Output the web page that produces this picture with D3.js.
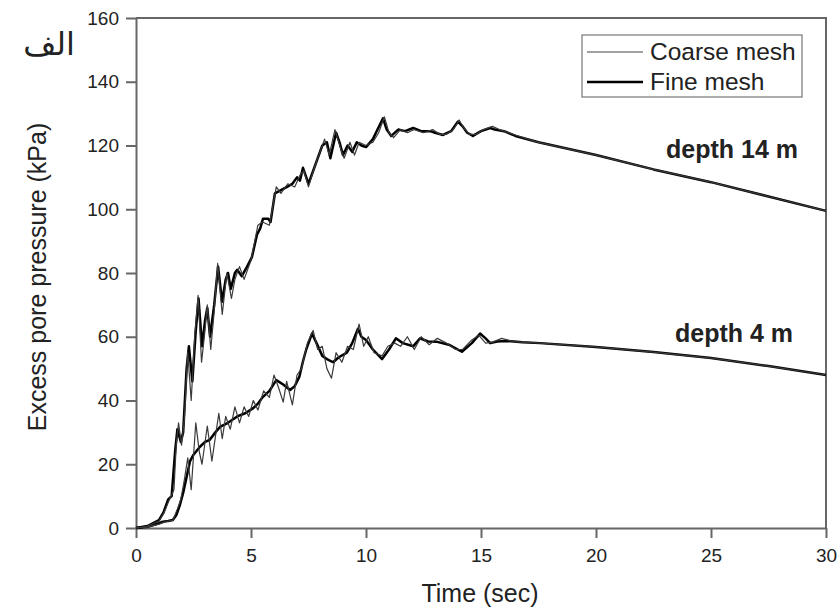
<!DOCTYPE html>
<meta charset="utf-8">
<html>
  <head>
    <style>
      body { margin: 0; background: #fff; }
      text { font-family: "Liberation Sans", Arial, sans-serif; fill: #222; }
      .axis path, .axis line { stroke: #666; stroke-width: 2px; }
      .axis text { font-size: 19px; fill: #222; font-family: "Liberation Sans", Arial, sans-serif; }
    </style>
    <script src="https://d3js.org/d3.v7.min.js"></script>
  </head>
  <body>
<div id="chart"></div>
<script type="text/javascript">
// data: [time (sec), excess pore pressure (kPa)]
var fine14 = [[0,0],[0.5,0.6],[1.0,2.5],[1.2,5],[1.4,9],[1.55,10],[1.7,24],[1.8,31],[1.95,27],[2.05,30],[2.2,50],[2.3,57],[2.45,46],[2.6,62],[2.72,72],[2.87,57],[3.0,65],[3.1,69],[3.22,60],[3.4,70],[3.57,82],[3.74,71],[3.9,78],[4.0,80],[4.12,75],[4.3,80],[4.4,81],[4.6,79],[4.83,82],[5.04,85],[5.26,92],[5.4,94],[5.52,97],[5.75,97],[5.85,96],[6.04,105],[6.3,106],[6.57,107],[6.8,108],[7.0,110],[7.13,109],[7.26,113],[7.5,108],[7.7,112],[7.9,116],[8.1,120],[8.3,121],[8.45,116],[8.7,124],[8.85,121],[9.0,117],[9.2,120],[9.4,118],[9.6,121],[9.8,120],[10.0,119.5],[10.3,122],[10.5,125],[10.74,128.5],[10.9,125],[11.1,123],[11.4,125],[11.7,124.5],[12.05,125.5],[12.4,124.5],[12.8,124.5],[13.0,124],[13.35,123.3],[13.7,124.5],[14.0,127.5],[14.2,126],[14.4,124],[14.65,123],[15.0,124.5],[15.4,125.5],[15.6,125],[16.0,124.5],[16.5,123],[17.5,121],[20,117],[22.5,112.5],[25,108.5],[27.5,104],[30,99.5]];
var coarse14 = [[0,0],[0.5,0.5],[1.0,2.2],[1.2,4.5],[1.4,8],[1.65,12],[1.75,26],[1.85,33],[1.98,26],[2.1,34],[2.25,55],[2.4,40],[2.55,60],[2.7,73],[2.85,52],[3.0,62],[3.1,70],[3.25,56],[3.4,68],[3.55,83],[3.75,67],[3.95,80],[4.15,72],[4.3,78],[4.5,82],[4.7,78],[5.0,84],[5.3,95],[5.5,96],[5.8,95],[6.1,107],[6.3,105],[6.6,108],[6.9,107],[7.15,111],[7.3,112],[7.5,107],[7.75,113],[8.0,118],[8.2,122],[8.4,117],[8.65,125],[8.9,119],[9.05,116],[9.3,121],[9.5,117],[9.7,121],[10.0,120],[10.3,121],[10.55,124],[10.8,129],[11.0,124],[11.2,122.5],[11.5,125],[11.8,124],[12.1,125],[12.5,124],[12.9,125],[13.2,123.5],[13.5,123.5],[13.8,125],[14.05,128],[14.25,125.5],[14.5,123.5],[14.8,123.5],[15.1,125],[15.5,126],[15.8,125],[16.2,124],[16.8,122.5],[17.5,121],[20,117],[22.5,112.5],[25,108.5],[27.5,104],[30,99.5]];
var fine4 = [[0,0],[0.5,0.4],[1.0,1.5],[1.17,2],[1.4,2.2],[1.6,2.5],[1.75,4],[1.9,7],[2.05,11],[2.2,16],[2.35,21],[2.5,23],[2.78,25.5],[3.0,27],[3.2,27.6],[3.45,30],[3.65,31.7],[4.0,33],[4.4,35],[4.75,36],[5.1,37.6],[5.3,39],[5.5,41],[5.8,43],[6.1,46.4],[6.4,45],[6.7,43.3],[6.9,44.5],[7.1,47.4],[7.25,52],[7.4,56],[7.65,61],[7.85,58],[8.1,54],[8.3,53],[8.57,52],[8.8,53.5],[9.17,55],[9.4,58],[9.65,62.5],[9.8,60],[10.0,59],[10.3,56],[10.7,53],[11.0,56],[11.3,59.5],[11.6,58],[12.05,57],[12.35,59.5],[12.7,58.5],[13.1,58.4],[13.6,57.5],[14.17,55.3],[14.6,58],[14.96,61],[15.2,59.5],[15.4,58],[15.7,58.5],[16.1,58.7],[16.8,58.3],[17.57,58],[20,56.8],[22.5,55.2],[25,53.3],[27.5,50.8],[30,48]];
var coarse4 = [[0,0],[0.5,0.3],[1.0,1.2],[1.3,2],[1.6,2.4],[1.8,6],[1.95,9],[2.1,15],[2.25,22],[2.4,12],[2.6,33],[2.75,24],[2.87,20],[3.1,32],[3.3,21],[3.6,36],[3.75,28],[3.9,35],[4.1,31],[4.3,38],[4.5,33],[4.7,38],[4.9,35],[5.1,40],[5.3,37],[5.55,43],[5.8,41],[6.0,48],[6.2,44],[6.4,39.5],[6.55,46],[6.8,38.6],[7.0,48],[7.2,50],[7.45,58],[7.7,62],[7.9,56],[8.1,57],[8.3,50],[8.5,47],[8.7,55],[8.95,52],[9.2,57],[9.45,56],[9.7,64],[9.9,57],[10.1,60],[10.35,55],[10.7,54],[10.95,57],[11.25,58],[11.5,57],[11.8,60],[12.1,56],[12.4,60],[12.75,57.5],[13.1,59.5],[13.5,58],[13.9,56],[14.2,56],[14.6,59],[14.9,60.5],[15.2,58],[15.5,58.3],[15.9,59.5],[16.4,58.5],[17.57,58],[20,56.8],[22.5,55.2],[25,53.3],[27.5,50.8],[30,48]];

var xTicks = [0, 5, 10, 15, 20, 25, 30];
var yTicks = [0, 20, 40, 60, 80, 100, 120, 140, 160];
var seriesNames = ["Coarse mesh", "Fine mesh"];

var W = 838, H = 610;
var margin = {top: 18, right: 12, bottom: 82, left: 136};
var width = W - margin.left - margin.right,
    height = H - margin.top - margin.bottom;

var svg = d3.select("#chart").append("svg")
  .attr("width", W).attr("height", H);
var g = svg.append("g")
  .attr("transform", "translate(" + margin.left + "," + margin.top + ")");

var x = d3.scaleLinear().domain([0, 30]).range([0, width]);
var y = d3.scaleLinear().domain([0, 160]).range([height, 0]);

// frame (top and right)
g.append("path")
  .attr("d", "M0,0H" + width + "V" + height)
  .attr("fill", "none").attr("stroke", "#666").attr("stroke-width", 2);

g.append("g").attr("class", "axis")
  .attr("transform", "translate(0," + height + ")")
  .call(d3.axisBottom(x).tickValues(xTicks).tickSize(10).tickPadding(11).tickSizeOuter(0));

g.append("g").attr("class", "axis")
  .call(d3.axisLeft(y).tickValues(yTicks).tickSize(10).tickPadding(7).tickSizeOuter(0));

var line = d3.line().x(function(d) { return x(d[0]); }).y(function(d) { return y(d[1]); });

[fine14, fine4].forEach(function(s) {
  g.append("path").datum(s).attr("d", line)
    .attr("fill", "none").attr("stroke", "#000").attr("stroke-width", 2.5)
    .attr("stroke-linejoin", "round");
});
[coarse14, coarse4].forEach(function(s) {
  g.append("path").datum(s).attr("d", line)
    .attr("fill", "none").attr("stroke", "#3a3a3a").attr("stroke-width", 1.2)
    .attr("stroke-linejoin", "round");
});

// legend
var lg = svg.append("g").attr("transform", "translate(582,35)");
lg.append("rect").attr("width", 220).attr("height", 62)
  .attr("fill", "#fff").attr("stroke", "#777").attr("stroke-width", 1.2);
seriesNames.forEach(function(n, i) {
  var yy = 17 + i * 30;
  lg.append("line").attr("x1", 5).attr("x2", 61).attr("y1", yy).attr("y2", yy)
    .attr("stroke", i ? "#000" : "#444").attr("stroke-width", i ? 2.5 : 1.2);
  lg.append("text").attr("x", 68).attr("y", yy + 8).attr("font-size", 24.5).text(n);
});

// annotations
svg.append("text").attr("x", 666).attr("y", 158)
  .attr("font-size", 25).attr("font-weight", "bold").attr("fill", "#111").text("depth 14 m");
svg.append("text").attr("x", 675).attr("y", 342)
  .attr("font-size", 25).attr("font-weight", "bold").attr("fill", "#111").text("depth 4 m");

// axis titles
svg.append("text").attr("x", 480).attr("y", 602)
  .attr("text-anchor", "middle").attr("font-size", 25).text("Time (sec)");
svg.append("text")
  .attr("transform", "translate(46,277) rotate(-90)")
  .attr("text-anchor", "middle").attr("font-size", 25).text("Excess pore pressure (kPa)");

svg.append("text").attr("x", 75).attr("y", 55)
  .attr("text-anchor", "end").attr("font-size", 32)
  .style("font-family", "'DejaVu Sans', 'Noto Sans', sans-serif").attr("fill", "#111")
  .text("الف");
</script>
</body>
</html>
